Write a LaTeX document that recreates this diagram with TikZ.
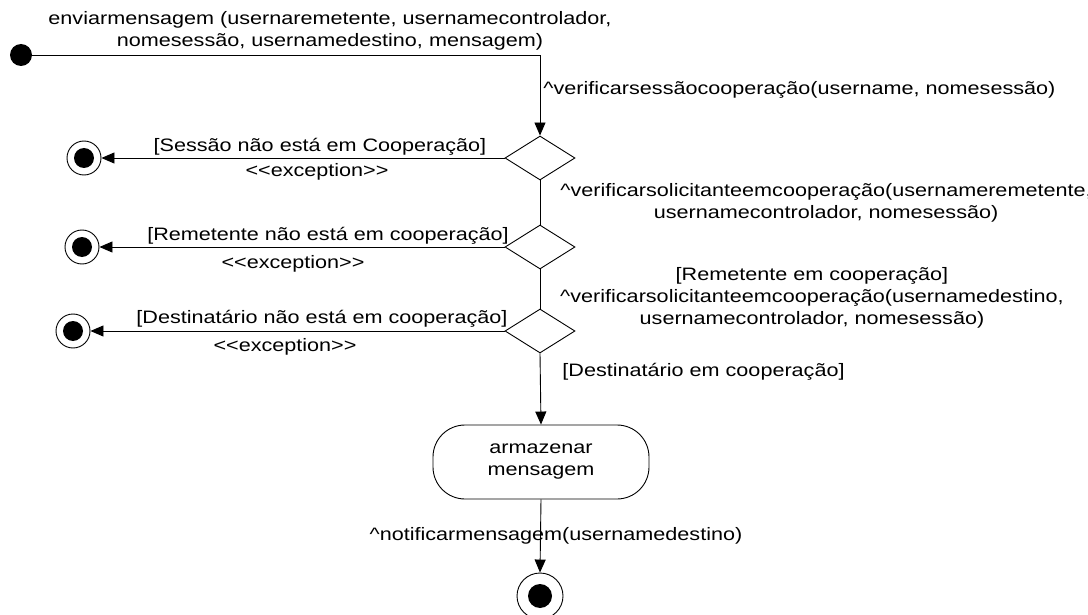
\documentclass[tikz,border=0pt]{standalone}
\usepackage{fontspec}
\setmainfont{Liberation Sans}[FakeStretch=1.2]
\usetikzlibrary{shapes.geometric,arrows.meta,positioning}

\begin{document}
\begin{tikzpicture}[x=1pt, y=-1pt, line width=0.9pt,
  lbl/.style={inner sep=0pt, align=center, font=\fontsize{18}{22}\selectfont},
  initial/.style={circle, fill=black, minimum size=22pt, inner sep=0pt},
  final/.style={circle, draw, minimum size=34pt, inner sep=0pt,
    path picture={\fill (path picture bounding box.center) circle (10pt);}},
  bigfinal/.style={circle, draw, minimum size=46pt, inner sep=0pt,
    path picture={\fill (path picture bounding box.center) circle (12pt);}},
  decision/.style={diamond, draw, minimum width=70pt, minimum height=44pt, inner sep=0pt},
  activity/.style={draw, rounded corners=32pt, minimum width=216pt, minimum height=74pt, align=center, font=\fontsize{18}{22}\selectfont},
  arr/.style={-{Triangle[length=13pt, width=11pt]}}
]
\useasboundingbox (0,0) rectangle (1088,615);

% Nodes
\node[initial] (start) at (21,55) {};
\node[decision] (d1) at (540,158) {};
\node[decision] (d2) at (540,247) {};
\node[decision] (d3) at (540,331) {};
\node[final] (end1) at (84,158) {};
\node[final] (end2) at (82,247) {};
\node[final] (end3) at (73,331) {};
\node[activity] (store) at (541,462) {armazenar\\mensagem};
\node[bigfinal] (end4) at (540,596) {};

% Labels
\node[lbl] (sendlbl) at (330,31) {enviarmensagem (usernaremetente, usernamecontrolador,\\nomesessão, usernamedestino, mensagem)};
\node[lbl, anchor=west] (chk1) at (543,90) {\^{}verificarsessãocooperação(username, nomesessão)};
\node[lbl] (g1) at (320,147) {[Sessão não está em Cooperação]};
\node[lbl] (x1) at (317,172) {<{}<exception>{}>};
\node[lbl, anchor=west] (chk2) at (560,203) {\^{}verificarsolicitanteemcooperação(usernameremetente,\\usernamecontrolador, nomesessão)};
\node[lbl] (g2) at (328,236) {[Remetente não está em cooperação]};
\node[lbl] (x2) at (293,264) {<{}<exception>{}>};
\node[lbl] (chk3) at (812,298) {[Remetente em cooperação]\\\^{}verificarsolicitanteemcooperação(usernamedestino,\\usernamecontrolador, nomesessão)};
\node[lbl] (g3) at (322,319) {[Destinatário não está em cooperação]};
\node[lbl] (x3) at (285,347) {<{}<exception>{}>};
\node[lbl, anchor=west] (g4) at (562,372) {[Destinatário em cooperação]};
\node[lbl] (notif) at (556,536) {\^{}notificarmensagem(usernamedestino)};

% Connectors
\draw[arr] (start.east) -| (d1.north);
\draw[arr] (d1.west) -- (end1);
\draw (d1.south) -- (d2.north);
\draw[arr] (d2.west) -- (end2);
\draw (d2.south) -- (d3.north);
\draw[arr] (d3.west) -- (end3);
\draw[arr] (d3.south) -- (store.north);
\draw[arr] (store.south) -- (end4.north);
\end{tikzpicture}
\end{document}
